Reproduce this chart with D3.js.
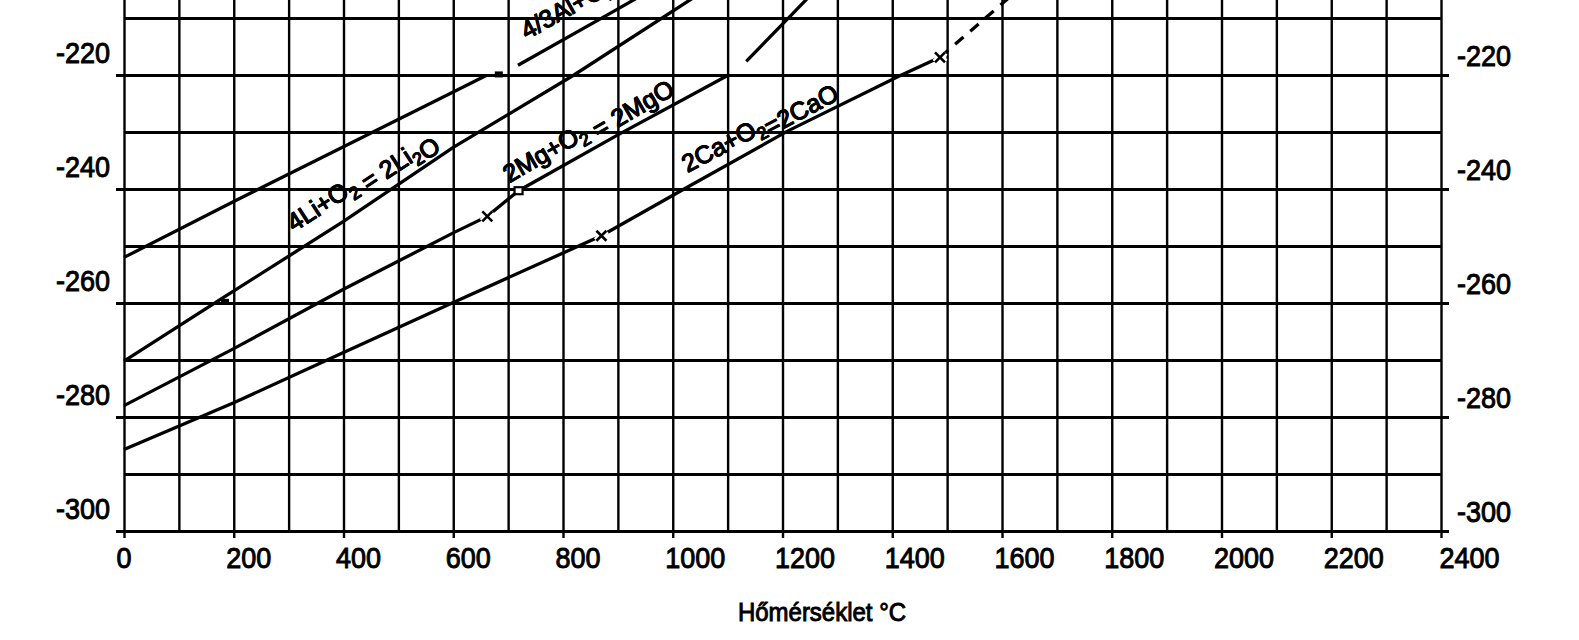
<!DOCTYPE html>
<html><head><meta charset="utf-8">
<script src="https://cdn.jsdelivr.net/npm/d3@7/dist/d3.min.js"></script>
<style>
body{margin:0;background:#fff}
svg{display:block}
text{font-family:"Liberation Sans",Arial,sans-serif;fill:#000;stroke:#000;stroke-width:0.9px}
</style>
</head><body>
<svg id="c" width="1579" height="640"></svg>
<script>
// ---- tick labels ----
const xTicks = [0,200,400,600,800,1000,1200,1400,1600,1800,2000,2200,2400];
const yTicks = [-300,-280,-260,-240,-220];
const xTitle = "Hőmérséklet °C";

// ---- series (T in °C, ΔG° in kcal / mol O2) ----
const alT  = [0, 200, 400, 600, 660];
const alG  = [-252.0, -242.2, -232.6, -223.0, -220.1];
const al2T = [718, 893, 960];
const al2G = [-218.3, -208.8, -205.1];

const liT = [0, 180, 400, 600, 820, 1040];
const liG = [-270.2, -259.1, -245.7, -232.7, -220.0, -206.3];

const mgT = [0, 200, 400, 600, 662, 719, 900, 1100];
const mgG = [-278.0, -268.0, -257.6, -247.7, -244.8, -240.3, -230.5, -220.1];
const mgGasT = [1134, 1216, 1260];
const mgGasG = [-217.6, -209.5, -205.1];

const caT = [0, 200, 400, 600, 870, 1015, 1210, 1410, 1487];
const caG = [-285.7, -277.5, -268.7, -259.9, -248.2, -240.3, -229.8, -220.3, -216.9];
const caGasT = [1487, 1630];
const caGasG = [-216.9, -205.0];

// phase-change markers
const markT    = [683, 184, 662, 719, 870, 1487];
const markG    = [-219.9, -259.8, -244.8, -240.3, -248.2, -216.9];
const markType = ["fill", "fill", "x", "open", "x", "x"];

// line labels
const labelText  = ["4Li+O_2 = 2Li_2O", "2Mg+O_2 = 2MgO", "2Ca+O_2=2CaO", "4/3Al+O_2 = 2/3Al_2O_3"];
const labelT     = [310, 702, 1027, 734];
const labelG     = [-247.6, -239.0, -237.2, -213.8];
const labelAngle = [33, 30, 28, 29];

// ---- drawing ----
const svg = d3.select("#c");
svg.append("rect").attr("width",1579).attr("height",640).attr("fill","#fff");

const x = d3.scaleLinear().domain([0,2400]).range([124,1441]);
const y = d3.scaleLinear().domain([-300,-210]).range([531,18]);
const x0 = x(0), x1 = x(2400), yb = y(-300);

const minorT = d3.range(0, 2401, 100);
const minorG = d3.range(-300, -209, 10);

function stretch(sel){
  sel.each(function(){
    const t = d3.select(this);
    const tx = +t.attr("x") || 0, ty = +t.attr("y") || 0;
    t.attr("x",0).attr("y",0).attr("dy",null)
     .attr("transform", `translate(${tx},${ty}) scale(1,1.1)`);
  });
}

// vertical grid
const gv = svg.append("g").attr("transform",`translate(0,${yb})`)
  .call(d3.axisBottom(x).tickValues(minorT).tickSize(-yb).tickFormat(""));
gv.select(".domain").remove();
gv.selectAll("line").attr("stroke","#000").attr("stroke-width",2.4);

// horizontal grid
const gh = svg.append("g").attr("transform",`translate(${x0},0)`)
  .call(d3.axisLeft(y).tickValues(minorG).tickSize(-(x1-x0)).tickFormat(""));
gh.select(".domain").remove();
gh.selectAll("line").attr("stroke","#000").attr("stroke-width",3);

// bottom axis: major stubs + labels
const ax = svg.append("g").attr("transform",`translate(0,${yb})`)
  .call(d3.axisBottom(x).tickValues(xTicks).tickSize(7).tickFormat(d => String(d)));
ax.select(".domain").remove();
ax.selectAll("line").attr("stroke","#000").attr("stroke-width",2.4);
ax.selectAll("text").attr("font-size",27).attr("text-anchor","start")
  .attr("x",d => d === 2400 ? -2 : -8).attr("y",37);
stretch(ax.selectAll("text"));

// left axis
const al = svg.append("g").attr("transform",`translate(${x0},0)`)
  .call(d3.axisLeft(y).tickValues(yTicks).tickSize(8).tickFormat(d => String(d)));
al.select(".domain").remove();
al.selectAll("line").attr("stroke","#000").attr("stroke-width",3);
al.selectAll("text").attr("font-size",27).attr("text-anchor","end")
  .attr("x",-14).attr("y",-13);
stretch(al.selectAll("text"));

// right axis
const ar = svg.append("g").attr("transform",`translate(${x1},0)`)
  .call(d3.axisRight(y).tickValues(yTicks).tickSize(8).tickFormat(d => String(d)));
ar.select(".domain").remove();
ar.selectAll("line").attr("stroke","#000").attr("stroke-width",3);
ar.selectAll("text").attr("font-size",27).attr("text-anchor","start")
  .attr("x",16).attr("y",-10);
stretch(ar.selectAll("text"));

// x title
const tt = svg.append("text").attr("x",822).attr("y",621).attr("text-anchor","middle")
  .attr("font-size",24).attr("stroke-width",0.4).text(xTitle);
stretch(tt);

// series
const line = d3.line().x(d => x(d[0])).y(d => y(d[1]));
const series = [
  [alT, alG, null], [al2T, al2G, null], [liT, liG, null],
  [mgT, mgG, null], [mgGasT, mgGasG, null], [caT, caG, null], [caGasT, caGasG, "11,9"]
];
const gl = svg.append("g");
series.forEach(([ts, gs, dash]) => {
  gl.append("path").datum(d3.zip(ts, gs)).attr("d", line)
    .attr("fill","none").attr("stroke","#000").attr("stroke-width",3.3)
    .attr("stroke-dasharray", dash);
});

// markers
const gm = svg.append("g");
markT.forEach((t, i) => {
  const cx = x(t), cy = y(markG[i]), k = markType[i];
  if (k === "x") {
    const p = `M${cx-5},${cy-5}L${cx+5},${cy+5}M${cx-5},${cy+5}L${cx+5},${cy-5}`;
    gm.append("path").attr("d",p).attr("stroke","#fff").attr("stroke-width",7);
    gm.append("path").attr("d",p).attr("stroke","#000").attr("stroke-width",2.6);
  } else if (k === "open") {
    gm.append("rect").attr("x",cx-4).attr("y",cy-3.5).attr("width",8).attr("height",7)
      .attr("fill","#fff").attr("stroke","#000").attr("stroke-width",2.2);
  } else {
    gm.append("rect").attr("x",cx-4).attr("y",cy-3).attr("width",8).attr("height",6)
      .attr("fill","#000");
  }
});

// labels with subscripts (white halo layer underneath, then black text)
const glab = svg.append("g");
function richText(g, s, i, halo){
  const t = g.append("text").attr("font-size",25)
    .attr("transform",`translate(${x(labelT[i])},${y(labelG[i])}) rotate(${-labelAngle[i]})`);
  if (halo) t.attr("fill","#fff").attr("stroke","#fff").attr("stroke-width",7).attr("stroke-linejoin","round");
  else t.attr("stroke-width",0.7);
  s.split(/(_\d)/).filter(p => p.length).forEach(p => {
    if (p[0] === "_") {
      t.append("tspan").attr("dy",6).attr("font-size",18).text(p.slice(1));
      t.append("tspan").attr("dy",-6).text("");
    } else {
      t.append("tspan").text(p);
    }
  });
}
labelText.forEach((s, i) => richText(glab, s, i, true));
labelText.forEach((s, i) => richText(glab, s, i, false));
</script>
</body></html>
